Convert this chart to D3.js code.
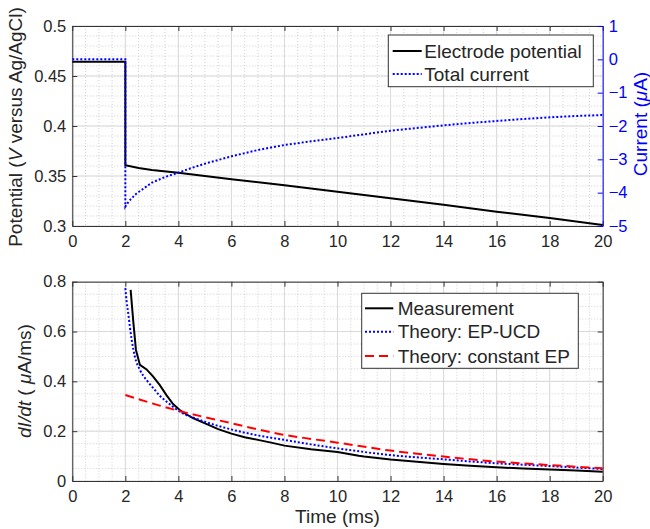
<!DOCTYPE html>
<html>
<head>
<meta charset="utf-8">
<script src="https://cdn.jsdelivr.net/npm/d3@7"></script>
<style>
body { margin: 0; background: #fff; }
text { font-family: "Liberation Sans", Arial, Helvetica, sans-serif; }
</style>
</head>
<body>
<div id="chart-area"></div>
<script>
// ---- data ----
var timeTicks = [0, 2, 4, 6, 8, 10, 12, 14, 16, 18, 20];
var potTicks = [0.3, 0.35, 0.4, 0.45, 0.5];
var curTicks = [1, 0, -1, -2, -3, -4, -5];
var rateTicks = [0, 0.2, 0.4, 0.6, 0.8];

// top panel: electrode potential (V) and total current (uA)
var potTime = [0, 2, 2, 2.5, 3, 4, 6, 8, 10, 12, 14, 16, 18, 20];
var potential = [0.4643, 0.4643, 0.3607, 0.358, 0.356, 0.3533, 0.3467, 0.3407, 0.3343, 0.3277, 0.3213, 0.3143, 0.308, 0.301];

var curTime = [0, 2, 2, 2.1, 2.2, 2.3, 2.4, 2.5, 2.7, 3, 3.5, 4, 4.5, 5, 6, 7, 8, 9, 10, 11, 12, 13, 14, 15, 16, 17, 18, 19, 20];
var current = [0.0, 0.0, -4.42, -4.3, -4.2, -4.12, -4.04, -3.98, -3.87, -3.7, -3.53, -3.40, -3.26, -3.13, -2.91, -2.72, -2.57, -2.46, -2.36, -2.25, -2.14, -2.06, -1.98, -1.91, -1.85, -1.79, -1.74, -1.70, -1.67];

// bottom panel: dI/dt (uA/ms)
var measTime = [2.2, 2.3, 2.4, 2.55, 2.8, 3.05, 3.3, 3.55, 3.8, 4.05, 4.3, 4.55, 5.05, 5.5, 6, 6.5, 7, 7.5, 8, 9, 10, 10.8, 11, 12, 13, 14, 15, 16, 17, 18, 19, 20];
var measured = [0.767, 0.64, 0.526, 0.466, 0.448, 0.419, 0.385, 0.345, 0.309, 0.285, 0.268, 0.252, 0.229, 0.208, 0.190, 0.176, 0.165, 0.154, 0.142, 0.127, 0.116, 0.101, 0.098, 0.086, 0.077, 0.068, 0.061, 0.055, 0.050, 0.046, 0.042, 0.037];

var ucdTime = [2, 2.05, 2.11, 2.17, 2.24, 2.36, 2.55, 2.8, 3.06, 3.31, 3.56, 4.06, 4.81, 6.07, 7, 8, 9, 10, 12, 14, 16, 18, 20];
var ucd = [0.774, 0.72, 0.673, 0.62, 0.566, 0.499, 0.446, 0.405, 0.372, 0.341, 0.318, 0.278, 0.245, 0.205, 0.183, 0.165, 0.147, 0.131, 0.104, 0.087, 0.071, 0.060, 0.048];

var constTime = [2, 3, 4, 5, 6, 7, 8, 9, 10, 12, 14, 16, 18, 20];
var constEP = [0.345, 0.312, 0.282, 0.256, 0.232, 0.207, 0.185, 0.169, 0.154, 0.122, 0.098, 0.078, 0.064, 0.051];

var topLegend = ["Electrode potential", "Total current"];
var bottomLegend = ["Measurement", "Theory: EP-UCD", "Theory: constant EP"];

// ---- layout ----
var total_width = 650;
var total_height = 529;
var axisColor = "#333";
var tickFont = "16.5px";
var labelFont = "19px";

var svg = d3.select('#chart-area').append('svg')
            .attr("width", total_width)
            .attr("height", total_height);

var x = d3.scaleLinear().domain([0, 20]).range([72.3, 602.7]);
var yPot = d3.scaleLinear().domain([0.3, 0.5]).range([226, 26]);
var yCur = d3.scaleLinear().domain([-5, 1]).range([226, 26]);
var yRate = d3.scaleLinear().domain([0, 0.8]).range([481, 281.7]);

var fmt = d3.format("~g");

function draw_grid(yScale, yMajor, yStep) {
  var g = svg.append("g");
  var top = yScale.range()[1], bottom = yScale.range()[0];
  var left = x.range()[0], right = x.range()[1];
  var yMin = yScale.domain()[0], yMax = yScale.domain()[1];
  var n = Math.round((yMax - yMin) / yStep);
  var yMinor = d3.range(n + 1).map(function(i) { return yMin + i * yStep; });
  var xMinor = d3.range(41).map(function(i) { return i * 0.5; });

  g.selectAll(".xminor").data(xMinor).enter().append("line")
    .attr("x1", d => x(d)).attr("x2", d => x(d))
    .attr("y1", top).attr("y2", bottom)
    .style("stroke", "#c4c4c4").style("stroke-width", 0.8)
    .style("stroke-dasharray", "1,2");
  g.selectAll(".yminor").data(yMinor).enter().append("line")
    .attr("x1", left).attr("x2", right)
    .attr("y1", d => yScale(d)).attr("y2", d => yScale(d))
    .style("stroke", "#c4c4c4").style("stroke-width", 0.8)
    .style("stroke-dasharray", "1,2");
  g.selectAll(".xmajor").data(timeTicks).enter().append("line")
    .attr("x1", d => x(d)).attr("x2", d => x(d))
    .attr("y1", top).attr("y2", bottom)
    .style("stroke", "#dadada").style("stroke-width", 1);
  g.selectAll(".ymajor").data(yMajor).enter().append("line")
    .attr("x1", left).attr("x2", right)
    .attr("y1", d => yScale(d)).attr("y2", d => yScale(d))
    .style("stroke", "#dadada").style("stroke-width", 1);
}

function style_axis(g, color) {
  g.selectAll("path").style("stroke", color).style("stroke-width", 1);
  g.selectAll("line").style("stroke", color).style("stroke-width", 1);
  g.selectAll("text").style("fill", color === axisColor ? "#262626" : color)
    .style("font-size", tickFont).style("font-family", '"Liberation Sans", Arial, sans-serif');
}

function draw_axes(yScale, yTicks, rightScale, rightTicks, rightColor, showX) {
  var top = yScale.range()[1], bottom = yScale.range()[0];
  var left = x.range()[0], right = x.range()[1];

  var gx = svg.append("g").attr("transform", "translate(0," + bottom + ")")
    .call(d3.axisBottom(x).tickValues(timeTicks).tickFormat(fmt)
      .tickSizeInner(-5).tickSizeOuter(0).tickPadding(9));
  style_axis(gx, axisColor);

  var gt = svg.append("g").attr("transform", "translate(0," + top + ")")
    .call(d3.axisTop(x).tickValues(timeTicks).tickFormat("")
      .tickSizeInner(-5).tickSizeOuter(0));
  style_axis(gt, axisColor);

  var gl = svg.append("g").attr("transform", "translate(" + left + ",0)")
    .call(d3.axisLeft(yScale).tickValues(yTicks).tickFormat(fmt)
      .tickSizeInner(-5).tickSizeOuter(0).tickPadding(6));
  style_axis(gl, axisColor);

  var gr = svg.append("g").attr("transform", "translate(" + right + ",0)")
    .call(d3.axisRight(rightScale).tickValues(rightTicks)
      .tickFormat(rightColor === axisColor ? "" : fmt)
      .tickSizeInner(-5).tickSizeOuter(0).tickPadding(6));
  style_axis(gr, rightColor);
}

function draw_line(xs, ys, yScale, color, dash, curve) {
  var line = d3.line()
    .x(d => x(d[0]))
    .y(d => yScale(d[1]))
    .curve(curve || d3.curveLinear);
  svg.append("path")
    .datum(d3.zip(xs, ys))
    .attr("d", line)
    .style("fill", "none")
    .style("stroke", color)
    .style("stroke-width", 2)
    .style("stroke-dasharray", dash || null);
}

function draw_legend(x0, y0, w, h, names, styles, sampleX, textX, rowY) {
  var g = svg.append("g");
  g.append("rect").attr("x", x0).attr("y", y0).attr("width", w).attr("height", h)
    .style("fill", "#fff").style("stroke", "#333").style("stroke-width", 1);
  names.forEach(function(name, i) {
    g.append("line")
      .attr("x1", sampleX[0]).attr("x2", sampleX[1])
      .attr("y1", rowY[i]).attr("y2", rowY[i])
      .style("stroke", styles[i].color).style("stroke-width", 2)
      .style("stroke-dasharray", styles[i].dash || null);
    g.append("text")
      .attr("x", textX).attr("y", rowY[i]).attr("dy", "0.35em")
      .style("font-size", labelFont).style("fill", "#262626")
      .text(name);
  });
}

// ---- top panel ----
draw_grid(yPot, potTicks, 0.01);
draw_axes(yPot, potTicks, yCur, curTicks, "#0000ff", true);
draw_line(potTime, potential, yPot, "#000");
draw_line(curTime, current, yCur, "#0000ff", "2,2");
draw_legend(388.3, 35, 205, 51.7, topLegend,
  [{color: "#000"}, {color: "#0000ff", dash: "2,2"}],
  [392.7, 421.7], 424.3, [51, 74]);

// ---- bottom panel ----
draw_grid(yRate, rateTicks, 0.05);
draw_axes(yRate, rateTicks, yRate, rateTicks, axisColor, true);
draw_line(measTime, measured, yRate, "#000");
draw_line(ucdTime, ucd, yRate, "#0000ff", "2,2", d3.curveMonotoneX);
draw_line(constTime, constEP, yRate, "#ff0000", "9,5", d3.curveMonotoneX);
draw_legend(361.7, 293.3, 216.6, 75, bottomLegend,
  [{color: "#000"}, {color: "#0000ff", dash: "2,2"}, {color: "#ff0000", dash: "9,5"}],
  [365, 393.3], 397.7, [308.3, 331.7, 356]);

// ---- axis titles ----
var potLabel = svg.append("text")
  .attr("transform", "translate(22,127) rotate(-90)")
  .style("text-anchor", "middle").style("font-size", labelFont).style("fill", "#262626");
potLabel.append("tspan").text("Potential (");
potLabel.append("tspan").style("font-style", "italic").text("V");
potLabel.append("tspan").text(" versus Ag/AgCl)");

var curLabel = svg.append("text")
  .attr("transform", "translate(647,124) rotate(-90)")
  .style("text-anchor", "middle").style("font-size", labelFont).style("fill", "#0000ff");
curLabel.append("tspan").text("Current (");
curLabel.append("tspan").style("font-style", "italic").text("\u03bc");
curLabel.append("tspan").text("A)");

var rateLabel = svg.append("text")
  .attr("transform", "translate(31,381) rotate(-90)")
  .style("text-anchor", "middle").style("font-size", labelFont).style("fill", "#262626");
rateLabel.append("tspan").style("font-style", "italic").text("dI/dt");
rateLabel.append("tspan").text(" ( ");
rateLabel.append("tspan").style("font-style", "italic").text("\u03bc");
rateLabel.append("tspan").text("A/ms)");

svg.append("text")
  .attr("x", (x.range()[0] + x.range()[1]) / 2)
  .attr("y", 523)
  .style("text-anchor", "middle").style("font-size", labelFont).style("fill", "#262626")
  .text("Time (ms)");
</script>
</body>
</html>
